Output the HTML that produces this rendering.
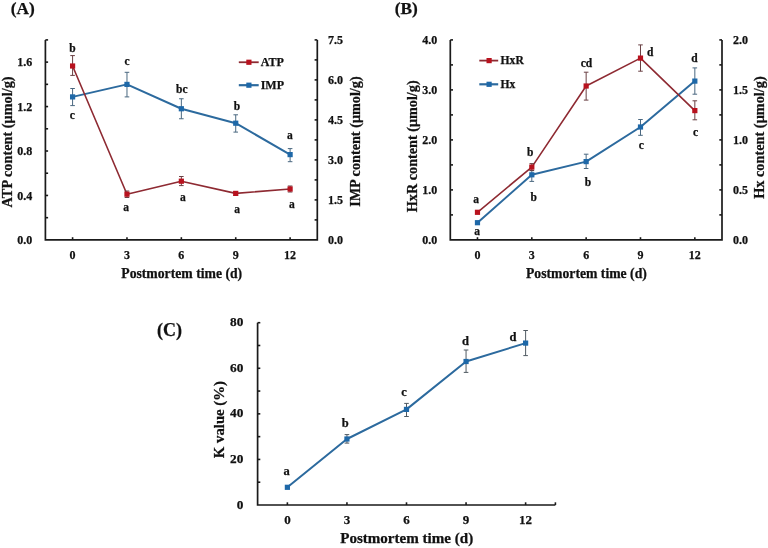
<!DOCTYPE html>
<html><head><meta charset="utf-8"><style>
html,body{margin:0;padding:0;background:#fff;}
svg{display:block;will-change:transform;}
text{font-family:'Liberation Serif',serif;font-weight:bold;fill:#111;stroke:#111;stroke-width:0.25px;}
</style></head><body>
<svg width="768" height="548" viewBox="0 0 768 548">
<rect width="768" height="548" fill="#fff"/>
<path d="M45.40,39.90 L45.40,239.90 L317.30,239.90 L317.30,39.90" fill="none" stroke="#1a1a1a" stroke-width="1.7" stroke-linejoin="miter"/>
<line x1="45.40" y1="217.68" x2="48.10" y2="217.68" stroke="#1a1a1a" stroke-width="1.6" />
<line x1="45.40" y1="195.46" x2="48.10" y2="195.46" stroke="#1a1a1a" stroke-width="1.6" />
<line x1="45.40" y1="173.23" x2="48.10" y2="173.23" stroke="#1a1a1a" stroke-width="1.6" />
<line x1="45.40" y1="151.01" x2="48.10" y2="151.01" stroke="#1a1a1a" stroke-width="1.6" />
<line x1="45.40" y1="128.79" x2="48.10" y2="128.79" stroke="#1a1a1a" stroke-width="1.6" />
<line x1="45.40" y1="106.57" x2="48.10" y2="106.57" stroke="#1a1a1a" stroke-width="1.6" />
<line x1="45.40" y1="84.34" x2="48.10" y2="84.34" stroke="#1a1a1a" stroke-width="1.6" />
<line x1="45.40" y1="62.12" x2="48.10" y2="62.12" stroke="#1a1a1a" stroke-width="1.6" />
<line x1="45.40" y1="39.90" x2="48.10" y2="39.90" stroke="#1a1a1a" stroke-width="1.6" />
<text x="32.30" y="243.98" font-size="12" text-anchor="end" >0.0</text>
<text x="32.30" y="199.54" font-size="12" text-anchor="end" >0.4</text>
<text x="32.30" y="155.09" font-size="12" text-anchor="end" >0.8</text>
<text x="32.30" y="110.65" font-size="12" text-anchor="end" >1.2</text>
<text x="32.30" y="66.20" font-size="12" text-anchor="end" >1.6</text>
<line x1="317.30" y1="219.90" x2="314.60" y2="219.90" stroke="#1a1a1a" stroke-width="1.6" />
<line x1="317.30" y1="199.90" x2="314.60" y2="199.90" stroke="#1a1a1a" stroke-width="1.6" />
<line x1="317.30" y1="179.90" x2="314.60" y2="179.90" stroke="#1a1a1a" stroke-width="1.6" />
<line x1="317.30" y1="159.90" x2="314.60" y2="159.90" stroke="#1a1a1a" stroke-width="1.6" />
<line x1="317.30" y1="139.90" x2="314.60" y2="139.90" stroke="#1a1a1a" stroke-width="1.6" />
<line x1="317.30" y1="119.90" x2="314.60" y2="119.90" stroke="#1a1a1a" stroke-width="1.6" />
<line x1="317.30" y1="99.90" x2="314.60" y2="99.90" stroke="#1a1a1a" stroke-width="1.6" />
<line x1="317.30" y1="79.90" x2="314.60" y2="79.90" stroke="#1a1a1a" stroke-width="1.6" />
<line x1="317.30" y1="59.90" x2="314.60" y2="59.90" stroke="#1a1a1a" stroke-width="1.6" />
<line x1="317.30" y1="39.90" x2="314.60" y2="39.90" stroke="#1a1a1a" stroke-width="1.6" />
<text x="327.90" y="243.98" font-size="12" text-anchor="start" >0.0</text>
<text x="327.90" y="203.98" font-size="12" text-anchor="start" >1.5</text>
<text x="327.90" y="163.98" font-size="12" text-anchor="start" >3.0</text>
<text x="327.90" y="123.98" font-size="12" text-anchor="start" >4.5</text>
<text x="327.90" y="83.98" font-size="12" text-anchor="start" >6.0</text>
<text x="327.90" y="43.98" font-size="12" text-anchor="start" >7.5</text>
<line x1="72.59" y1="239.90" x2="72.59" y2="237.20" stroke="#1a1a1a" stroke-width="1.6" />
<text x="72.59" y="258.58" font-size="12" text-anchor="middle" >0</text>
<line x1="126.97" y1="239.90" x2="126.97" y2="237.20" stroke="#1a1a1a" stroke-width="1.6" />
<text x="126.97" y="258.58" font-size="12" text-anchor="middle" >3</text>
<line x1="181.35" y1="239.90" x2="181.35" y2="237.20" stroke="#1a1a1a" stroke-width="1.6" />
<text x="181.35" y="258.58" font-size="12" text-anchor="middle" >6</text>
<line x1="235.73" y1="239.90" x2="235.73" y2="237.20" stroke="#1a1a1a" stroke-width="1.6" />
<text x="235.73" y="258.58" font-size="12" text-anchor="middle" >9</text>
<line x1="290.11" y1="239.90" x2="290.11" y2="237.20" stroke="#1a1a1a" stroke-width="1.6" />
<text x="290.11" y="258.58" font-size="12" text-anchor="middle" >12</text>
<path d="M72.59,96.90 L126.97,84.40 L181.35,108.75 L235.73,123.20 L290.11,154.60" fill="none" stroke="#2C6A9E" stroke-width="2.0" stroke-linejoin="round"/>
<line x1="72.59" y1="88.50" x2="72.59" y2="105.60" stroke="#4a6880" stroke-width="1.0" />
<line x1="70.29" y1="88.50" x2="74.89" y2="88.50" stroke="#4a6880" stroke-width="1.0" />
<line x1="70.29" y1="105.60" x2="74.89" y2="105.60" stroke="#4a6880" stroke-width="1.0" />
<line x1="126.97" y1="72.30" x2="126.97" y2="96.90" stroke="#4a6880" stroke-width="1.0" />
<line x1="124.67" y1="72.30" x2="129.27" y2="72.30" stroke="#4a6880" stroke-width="1.0" />
<line x1="124.67" y1="96.90" x2="129.27" y2="96.90" stroke="#4a6880" stroke-width="1.0" />
<line x1="181.35" y1="98.75" x2="181.35" y2="118.75" stroke="#4a6880" stroke-width="1.0" />
<line x1="179.05" y1="98.75" x2="183.65" y2="98.75" stroke="#4a6880" stroke-width="1.0" />
<line x1="179.05" y1="118.75" x2="183.65" y2="118.75" stroke="#4a6880" stroke-width="1.0" />
<line x1="235.73" y1="114.80" x2="235.73" y2="132.10" stroke="#4a6880" stroke-width="1.0" />
<line x1="233.43" y1="114.80" x2="238.03" y2="114.80" stroke="#4a6880" stroke-width="1.0" />
<line x1="233.43" y1="132.10" x2="238.03" y2="132.10" stroke="#4a6880" stroke-width="1.0" />
<line x1="290.11" y1="148.60" x2="290.11" y2="161.70" stroke="#4a6880" stroke-width="1.0" />
<line x1="287.81" y1="148.60" x2="292.41" y2="148.60" stroke="#4a6880" stroke-width="1.0" />
<line x1="287.81" y1="161.70" x2="292.41" y2="161.70" stroke="#4a6880" stroke-width="1.0" />
<rect x="69.99" y="94.30" width="5.2" height="5.2" fill="#1E68A8"/>
<rect x="124.37" y="81.80" width="5.2" height="5.2" fill="#1E68A8"/>
<rect x="178.75" y="106.15" width="5.2" height="5.2" fill="#1E68A8"/>
<rect x="233.13" y="120.60" width="5.2" height="5.2" fill="#1E68A8"/>
<rect x="287.51" y="152.00" width="5.2" height="5.2" fill="#1E68A8"/>
<path d="M72.59,66.00 L126.97,194.20 L181.35,181.20 L235.73,193.40 L290.11,189.00" fill="none" stroke="#8E2A32" stroke-width="1.6" stroke-linejoin="round"/>
<line x1="72.59" y1="55.60" x2="72.59" y2="75.40" stroke="#6a4044" stroke-width="1.0" />
<line x1="70.29" y1="55.60" x2="74.89" y2="55.60" stroke="#6a4044" stroke-width="1.0" />
<line x1="70.29" y1="75.40" x2="74.89" y2="75.40" stroke="#6a4044" stroke-width="1.0" />
<line x1="126.97" y1="191.00" x2="126.97" y2="197.50" stroke="#6a4044" stroke-width="1.0" />
<line x1="124.67" y1="191.00" x2="129.27" y2="191.00" stroke="#6a4044" stroke-width="1.0" />
<line x1="124.67" y1="197.50" x2="129.27" y2="197.50" stroke="#6a4044" stroke-width="1.0" />
<line x1="181.35" y1="176.50" x2="181.35" y2="185.60" stroke="#6a4044" stroke-width="1.0" />
<line x1="179.05" y1="176.50" x2="183.65" y2="176.50" stroke="#6a4044" stroke-width="1.0" />
<line x1="179.05" y1="185.60" x2="183.65" y2="185.60" stroke="#6a4044" stroke-width="1.0" />
<line x1="235.73" y1="191.50" x2="235.73" y2="195.50" stroke="#6a4044" stroke-width="1.0" />
<line x1="233.43" y1="191.50" x2="238.03" y2="191.50" stroke="#6a4044" stroke-width="1.0" />
<line x1="233.43" y1="195.50" x2="238.03" y2="195.50" stroke="#6a4044" stroke-width="1.0" />
<line x1="290.11" y1="186.00" x2="290.11" y2="192.00" stroke="#6a4044" stroke-width="1.0" />
<line x1="287.81" y1="186.00" x2="292.41" y2="186.00" stroke="#6a4044" stroke-width="1.0" />
<line x1="287.81" y1="192.00" x2="292.41" y2="192.00" stroke="#6a4044" stroke-width="1.0" />
<rect x="69.99" y="63.40" width="5.2" height="5.2" fill="#B8121E"/>
<rect x="124.37" y="191.60" width="5.2" height="5.2" fill="#B8121E"/>
<rect x="178.75" y="178.60" width="5.2" height="5.2" fill="#B8121E"/>
<rect x="233.13" y="190.80" width="5.2" height="5.2" fill="#B8121E"/>
<rect x="287.51" y="186.40" width="5.2" height="5.2" fill="#B8121E"/>
<text x="72.50" y="52.11" font-size="11.5" text-anchor="middle" >b</text>
<text x="72.30" y="118.94" font-size="11.5" text-anchor="middle" >c</text>
<text x="127.00" y="65.44" font-size="11.5" text-anchor="middle" >c</text>
<text x="126.10" y="210.85" font-size="11.5" text-anchor="middle" >a</text>
<text x="181.80" y="92.61" font-size="11.5" text-anchor="middle" >bc</text>
<text x="182.90" y="201.45" font-size="11.5" text-anchor="middle" >a</text>
<text x="236.85" y="110.11" font-size="11.5" text-anchor="middle" >b</text>
<text x="237.10" y="212.65" font-size="11.5" text-anchor="middle" >a</text>
<text x="289.75" y="139.20" font-size="11.5" text-anchor="middle" >a</text>
<text x="291.80" y="208.25" font-size="11.5" text-anchor="middle" >a</text>
<line x1="238.80" y1="62.25" x2="258.70" y2="62.25" stroke="#8E2A32" stroke-width="1.8" />
<rect x="246.30" y="59.65" width="5.2" height="5.2" fill="#B8121E"/>
<text x="260.70" y="65.60" font-size="12" text-anchor="start" >ATP</text>
<line x1="238.80" y1="85.20" x2="258.70" y2="85.20" stroke="#2C6A9E" stroke-width="2.2" />
<rect x="246.30" y="82.60" width="5.2" height="5.2" fill="#1E68A8"/>
<text x="260.70" y="89.30" font-size="12" text-anchor="start" >IMP</text>
<text x="181.70" y="277.60" font-size="13.7" text-anchor="middle" >Postmortem time (d)</text>
<text transform="translate(12.2,141.9) rotate(-90)" font-size="14" text-anchor="middle" textLength="131" lengthAdjust="spacingAndGlyphs">ATP content (μmol/g)</text>
<text transform="translate(359.6,141.6) rotate(-90)" font-size="14" text-anchor="middle" textLength="130.5" lengthAdjust="spacingAndGlyphs">IMP content (μmol/g)</text>
<text x="22.80" y="14.10" font-size="17.3" text-anchor="middle" >(A)</text>
<path d="M450.30,39.90 L450.30,239.90 L722.00,239.90 L722.00,39.90" fill="none" stroke="#1a1a1a" stroke-width="1.7" stroke-linejoin="miter"/>
<line x1="450.30" y1="214.90" x2="453.00" y2="214.90" stroke="#1a1a1a" stroke-width="1.6" />
<line x1="450.30" y1="189.90" x2="453.00" y2="189.90" stroke="#1a1a1a" stroke-width="1.6" />
<line x1="450.30" y1="164.90" x2="453.00" y2="164.90" stroke="#1a1a1a" stroke-width="1.6" />
<line x1="450.30" y1="139.90" x2="453.00" y2="139.90" stroke="#1a1a1a" stroke-width="1.6" />
<line x1="450.30" y1="114.90" x2="453.00" y2="114.90" stroke="#1a1a1a" stroke-width="1.6" />
<line x1="450.30" y1="89.90" x2="453.00" y2="89.90" stroke="#1a1a1a" stroke-width="1.6" />
<line x1="450.30" y1="64.90" x2="453.00" y2="64.90" stroke="#1a1a1a" stroke-width="1.6" />
<line x1="450.30" y1="39.90" x2="453.00" y2="39.90" stroke="#1a1a1a" stroke-width="1.6" />
<text x="437.30" y="243.98" font-size="12" text-anchor="end" >0.0</text>
<text x="437.30" y="193.98" font-size="12" text-anchor="end" >1.0</text>
<text x="437.30" y="143.98" font-size="12" text-anchor="end" >2.0</text>
<text x="437.30" y="93.98" font-size="12" text-anchor="end" >3.0</text>
<text x="437.30" y="43.98" font-size="12" text-anchor="end" >4.0</text>
<line x1="722.00" y1="214.90" x2="719.30" y2="214.90" stroke="#1a1a1a" stroke-width="1.6" />
<line x1="722.00" y1="189.90" x2="719.30" y2="189.90" stroke="#1a1a1a" stroke-width="1.6" />
<line x1="722.00" y1="164.90" x2="719.30" y2="164.90" stroke="#1a1a1a" stroke-width="1.6" />
<line x1="722.00" y1="139.90" x2="719.30" y2="139.90" stroke="#1a1a1a" stroke-width="1.6" />
<line x1="722.00" y1="114.90" x2="719.30" y2="114.90" stroke="#1a1a1a" stroke-width="1.6" />
<line x1="722.00" y1="89.90" x2="719.30" y2="89.90" stroke="#1a1a1a" stroke-width="1.6" />
<line x1="722.00" y1="64.90" x2="719.30" y2="64.90" stroke="#1a1a1a" stroke-width="1.6" />
<line x1="722.00" y1="39.90" x2="719.30" y2="39.90" stroke="#1a1a1a" stroke-width="1.6" />
<text x="732.90" y="243.98" font-size="12" text-anchor="start" >0.0</text>
<text x="732.90" y="193.98" font-size="12" text-anchor="start" >0.5</text>
<text x="732.90" y="143.98" font-size="12" text-anchor="start" >1.0</text>
<text x="732.90" y="93.98" font-size="12" text-anchor="start" >1.5</text>
<text x="732.90" y="43.98" font-size="12" text-anchor="start" >2.0</text>
<line x1="477.47" y1="239.90" x2="477.47" y2="237.20" stroke="#1a1a1a" stroke-width="1.6" />
<text x="477.47" y="258.88" font-size="12" text-anchor="middle" >0</text>
<line x1="531.81" y1="239.90" x2="531.81" y2="237.20" stroke="#1a1a1a" stroke-width="1.6" />
<text x="531.81" y="258.88" font-size="12" text-anchor="middle" >3</text>
<line x1="586.15" y1="239.90" x2="586.15" y2="237.20" stroke="#1a1a1a" stroke-width="1.6" />
<text x="586.15" y="258.88" font-size="12" text-anchor="middle" >6</text>
<line x1="640.49" y1="239.90" x2="640.49" y2="237.20" stroke="#1a1a1a" stroke-width="1.6" />
<text x="640.49" y="258.88" font-size="12" text-anchor="middle" >9</text>
<line x1="694.83" y1="239.90" x2="694.83" y2="237.20" stroke="#1a1a1a" stroke-width="1.6" />
<text x="694.83" y="258.88" font-size="12" text-anchor="middle" >12</text>
<path d="M477.47,222.70 L531.81,174.80 L586.15,161.60 L640.49,127.00 L694.83,81.10" fill="none" stroke="#2C6A9E" stroke-width="2.0" stroke-linejoin="round"/>
<line x1="531.81" y1="170.70" x2="531.81" y2="181.40" stroke="#4a6880" stroke-width="1.0" />
<line x1="529.51" y1="170.70" x2="534.11" y2="170.70" stroke="#4a6880" stroke-width="1.0" />
<line x1="529.51" y1="181.40" x2="534.11" y2="181.40" stroke="#4a6880" stroke-width="1.0" />
<line x1="586.15" y1="154.20" x2="586.15" y2="168.50" stroke="#4a6880" stroke-width="1.0" />
<line x1="583.85" y1="154.20" x2="588.45" y2="154.20" stroke="#4a6880" stroke-width="1.0" />
<line x1="583.85" y1="168.50" x2="588.45" y2="168.50" stroke="#4a6880" stroke-width="1.0" />
<line x1="640.49" y1="119.50" x2="640.49" y2="135.30" stroke="#4a6880" stroke-width="1.0" />
<line x1="638.19" y1="119.50" x2="642.79" y2="119.50" stroke="#4a6880" stroke-width="1.0" />
<line x1="638.19" y1="135.30" x2="642.79" y2="135.30" stroke="#4a6880" stroke-width="1.0" />
<line x1="694.83" y1="67.90" x2="694.83" y2="94.20" stroke="#4a6880" stroke-width="1.0" />
<line x1="692.53" y1="67.90" x2="697.13" y2="67.90" stroke="#4a6880" stroke-width="1.0" />
<line x1="692.53" y1="94.20" x2="697.13" y2="94.20" stroke="#4a6880" stroke-width="1.0" />
<rect x="474.87" y="220.10" width="5.2" height="5.2" fill="#1E68A8"/>
<rect x="529.21" y="172.20" width="5.2" height="5.2" fill="#1E68A8"/>
<rect x="583.55" y="159.00" width="5.2" height="5.2" fill="#1E68A8"/>
<rect x="637.89" y="124.40" width="5.2" height="5.2" fill="#1E68A8"/>
<rect x="692.23" y="78.50" width="5.2" height="5.2" fill="#1E68A8"/>
<path d="M477.47,212.30 L531.81,167.10 L586.15,86.00 L640.49,58.10 L694.83,110.60" fill="none" stroke="#8E2A32" stroke-width="1.6" stroke-linejoin="round"/>
<line x1="531.81" y1="163.60" x2="531.81" y2="170.50" stroke="#6a4044" stroke-width="1.0" />
<line x1="529.51" y1="163.60" x2="534.11" y2="163.60" stroke="#6a4044" stroke-width="1.0" />
<line x1="529.51" y1="170.50" x2="534.11" y2="170.50" stroke="#6a4044" stroke-width="1.0" />
<line x1="586.15" y1="72.20" x2="586.15" y2="100.10" stroke="#6a4044" stroke-width="1.0" />
<line x1="583.85" y1="72.20" x2="588.45" y2="72.20" stroke="#6a4044" stroke-width="1.0" />
<line x1="583.85" y1="100.10" x2="588.45" y2="100.10" stroke="#6a4044" stroke-width="1.0" />
<line x1="640.49" y1="44.90" x2="640.49" y2="71.20" stroke="#6a4044" stroke-width="1.0" />
<line x1="638.19" y1="44.90" x2="642.79" y2="44.90" stroke="#6a4044" stroke-width="1.0" />
<line x1="638.19" y1="71.20" x2="642.79" y2="71.20" stroke="#6a4044" stroke-width="1.0" />
<line x1="694.83" y1="100.80" x2="694.83" y2="119.80" stroke="#6a4044" stroke-width="1.0" />
<line x1="692.53" y1="100.80" x2="697.13" y2="100.80" stroke="#6a4044" stroke-width="1.0" />
<line x1="692.53" y1="119.80" x2="697.13" y2="119.80" stroke="#6a4044" stroke-width="1.0" />
<rect x="474.87" y="209.70" width="5.2" height="5.2" fill="#B8121E"/>
<rect x="529.21" y="164.50" width="5.2" height="5.2" fill="#B8121E"/>
<rect x="583.55" y="83.40" width="5.2" height="5.2" fill="#B8121E"/>
<rect x="637.89" y="55.50" width="5.2" height="5.2" fill="#B8121E"/>
<rect x="692.23" y="108.00" width="5.2" height="5.2" fill="#B8121E"/>
<text x="476.20" y="203.15" font-size="11.5" text-anchor="middle" >a</text>
<text x="477.20" y="235.35" font-size="11.5" text-anchor="middle" >a</text>
<text x="530.30" y="155.61" font-size="11.5" text-anchor="middle" >b</text>
<text x="533.80" y="200.91" font-size="11.5" text-anchor="middle" >b</text>
<text x="586.50" y="66.81" font-size="11.5" text-anchor="middle" >cd</text>
<text x="587.90" y="185.91" font-size="11.5" text-anchor="middle" >b</text>
<text x="650.30" y="56.31" font-size="11.5" text-anchor="middle" >d</text>
<text x="641.30" y="149.35" font-size="11.5" text-anchor="middle" >c</text>
<text x="694.50" y="62.01" font-size="11.5" text-anchor="middle" >d</text>
<text x="695.50" y="135.75" font-size="11.5" text-anchor="middle" >c</text>
<line x1="479.30" y1="60.60" x2="498.20" y2="60.60" stroke="#8E2A32" stroke-width="1.8" />
<rect x="486.50" y="58.00" width="5.2" height="5.2" fill="#B8121E"/>
<text x="500.60" y="64.40" font-size="11.6" text-anchor="start" >HxR</text>
<line x1="479.30" y1="84.30" x2="498.20" y2="84.30" stroke="#2C6A9E" stroke-width="2.2" />
<rect x="486.50" y="81.70" width="5.2" height="5.2" fill="#1E68A8"/>
<text x="500.60" y="88.10" font-size="11.6" text-anchor="start" >Hx</text>
<text x="586.40" y="277.60" font-size="13.7" text-anchor="middle" >Postmortem time (d)</text>
<text transform="translate(416.8,146.3) rotate(-90)" font-size="14" text-anchor="middle" textLength="131.8" lengthAdjust="spacingAndGlyphs">HxR content (μmol/g)</text>
<text transform="translate(764,137.6) rotate(-90)" font-size="14" text-anchor="middle" textLength="122.5" lengthAdjust="spacingAndGlyphs">Hx content (μmol/g)</text>
<text x="406.30" y="14.10" font-size="17.3" text-anchor="middle" >(B)</text>
<path d="M257.6,322.7 L257.6,505.0 L555.4,505.0" fill="none" stroke="#1a1a1a" stroke-width="1.7"/>
<line x1="257.60" y1="482.21" x2="260.30" y2="482.21" stroke="#1a1a1a" stroke-width="1.6" />
<line x1="257.60" y1="459.43" x2="260.30" y2="459.43" stroke="#1a1a1a" stroke-width="1.6" />
<line x1="257.60" y1="436.64" x2="260.30" y2="436.64" stroke="#1a1a1a" stroke-width="1.6" />
<line x1="257.60" y1="413.85" x2="260.30" y2="413.85" stroke="#1a1a1a" stroke-width="1.6" />
<line x1="257.60" y1="391.06" x2="260.30" y2="391.06" stroke="#1a1a1a" stroke-width="1.6" />
<line x1="257.60" y1="368.27" x2="260.30" y2="368.27" stroke="#1a1a1a" stroke-width="1.6" />
<line x1="257.60" y1="345.49" x2="260.30" y2="345.49" stroke="#1a1a1a" stroke-width="1.6" />
<line x1="257.60" y1="322.70" x2="260.30" y2="322.70" stroke="#1a1a1a" stroke-width="1.6" />
<text x="243.30" y="508.52" font-size="13.3" text-anchor="end" >0</text>
<text x="243.30" y="462.95" font-size="13.3" text-anchor="end" >20</text>
<text x="243.30" y="417.37" font-size="13.3" text-anchor="end" >40</text>
<text x="243.30" y="371.80" font-size="13.3" text-anchor="end" >60</text>
<text x="243.30" y="326.22" font-size="13.3" text-anchor="end" >80</text>
<line x1="555.40" y1="505.00" x2="555.40" y2="502.30" stroke="#1a1a1a" stroke-width="1.6" />
<line x1="287.38" y1="505.00" x2="287.38" y2="502.30" stroke="#1a1a1a" stroke-width="1.6" />
<text x="287.38" y="523.72" font-size="13" text-anchor="middle" >0</text>
<line x1="346.94" y1="505.00" x2="346.94" y2="502.30" stroke="#1a1a1a" stroke-width="1.6" />
<text x="346.94" y="523.72" font-size="13" text-anchor="middle" >3</text>
<line x1="406.50" y1="505.00" x2="406.50" y2="502.30" stroke="#1a1a1a" stroke-width="1.6" />
<text x="406.50" y="523.72" font-size="13" text-anchor="middle" >6</text>
<line x1="466.06" y1="505.00" x2="466.06" y2="502.30" stroke="#1a1a1a" stroke-width="1.6" />
<text x="466.06" y="523.72" font-size="13" text-anchor="middle" >9</text>
<line x1="525.62" y1="505.00" x2="525.62" y2="502.30" stroke="#1a1a1a" stroke-width="1.6" />
<text x="525.62" y="523.72" font-size="13" text-anchor="middle" >12</text>
<path d="M287.38,487.30 L346.94,439.00 L406.50,409.40 L466.06,361.50 L525.62,343.10" fill="none" stroke="#2C6A9E" stroke-width="2.0" stroke-linejoin="round"/>
<line x1="346.94" y1="434.60" x2="346.94" y2="443.10" stroke="#505a62" stroke-width="1.0" />
<line x1="344.64" y1="434.60" x2="349.24" y2="434.60" stroke="#505a62" stroke-width="1.0" />
<line x1="344.64" y1="443.10" x2="349.24" y2="443.10" stroke="#505a62" stroke-width="1.0" />
<line x1="406.50" y1="403.40" x2="406.50" y2="416.50" stroke="#505a62" stroke-width="1.0" />
<line x1="404.20" y1="403.40" x2="408.80" y2="403.40" stroke="#505a62" stroke-width="1.0" />
<line x1="404.20" y1="416.50" x2="408.80" y2="416.50" stroke="#505a62" stroke-width="1.0" />
<line x1="466.06" y1="350.00" x2="466.06" y2="372.40" stroke="#505a62" stroke-width="1.0" />
<line x1="463.76" y1="350.00" x2="468.36" y2="350.00" stroke="#505a62" stroke-width="1.0" />
<line x1="463.76" y1="372.40" x2="468.36" y2="372.40" stroke="#505a62" stroke-width="1.0" />
<line x1="525.62" y1="330.50" x2="525.62" y2="355.60" stroke="#505a62" stroke-width="1.0" />
<line x1="523.32" y1="330.50" x2="527.92" y2="330.50" stroke="#505a62" stroke-width="1.0" />
<line x1="523.32" y1="355.60" x2="527.92" y2="355.60" stroke="#505a62" stroke-width="1.0" />
<rect x="284.78" y="484.70" width="5.2" height="5.2" fill="#1E68A8"/>
<rect x="344.34" y="436.40" width="5.2" height="5.2" fill="#1E68A8"/>
<rect x="403.90" y="406.80" width="5.2" height="5.2" fill="#1E68A8"/>
<rect x="463.46" y="358.90" width="5.2" height="5.2" fill="#1E68A8"/>
<rect x="523.02" y="340.50" width="5.2" height="5.2" fill="#1E68A8"/>
<text x="286.60" y="475.07" font-size="12.5" text-anchor="middle" >a</text>
<text x="345.20" y="427.15" font-size="12.5" text-anchor="middle" >b</text>
<text x="404.10" y="395.88" font-size="12.5" text-anchor="middle" >c</text>
<text x="465.50" y="344.55" font-size="12.5" text-anchor="middle" >d</text>
<text x="513.10" y="340.55" font-size="12.5" text-anchor="middle" >d</text>
<text x="406.7" y="543.4" font-size="13.9" text-anchor="middle" textLength="133" lengthAdjust="spacingAndGlyphs">Postmortem time (d)</text>
<text transform="translate(224.3,419.6) rotate(-90)" font-size="14.4" text-anchor="middle" textLength="77.2" lengthAdjust="spacingAndGlyphs">K value (%)</text>
<text x="169.40" y="336.00" font-size="18" text-anchor="middle" >(C)</text>
</svg></body></html>
